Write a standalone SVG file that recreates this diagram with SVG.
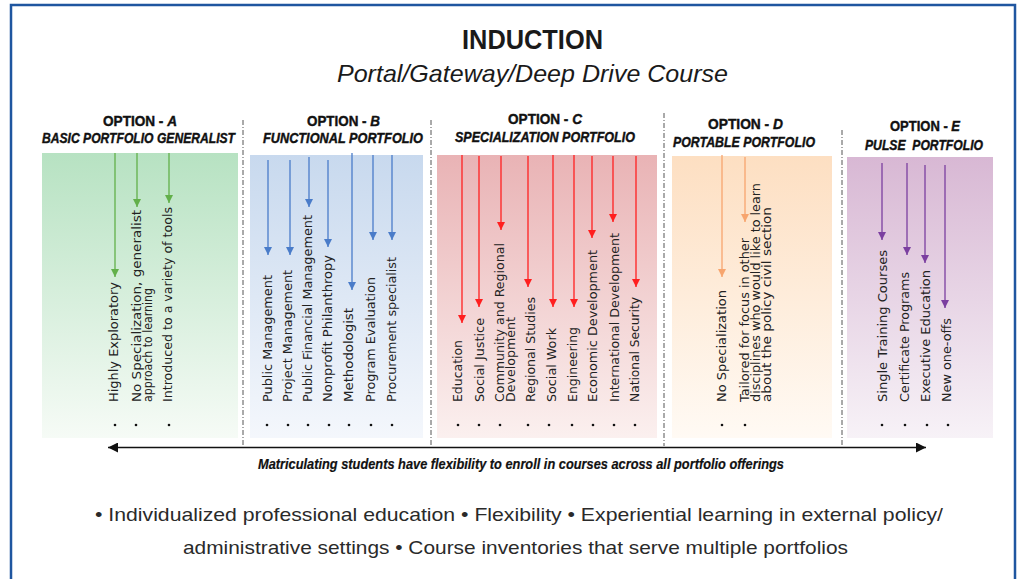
<svg xmlns="http://www.w3.org/2000/svg" width="1019" height="579" viewBox="0 0 1019 579">
  <style>
    .title { font-family: "Liberation Sans", Arial, sans-serif; font-weight: bold; font-size: 28px; fill: #1a1a1a; }
    .subtitle { font-family: "Liberation Sans", Arial, sans-serif; font-style: italic; font-size: 24px; fill: #1a1a1a; }
    .opt { font-family: "Liberation Sans", Arial, sans-serif; font-weight: bold; font-size: 14px; fill: #111; stroke: #111; stroke-width: 0.4; }
    .opt .it { font-style: italic; }
    .port { font-family: "Liberation Sans", Arial, sans-serif; font-weight: bold; font-style: italic; font-size: 14px; fill: #111; stroke: #111; stroke-width: 0.4; }
    .lbl { font-family: "DejaVu Sans", Verdana, sans-serif; font-size: 12px; fill: #222; }
    .note { font-family: "Liberation Sans", Arial, sans-serif; font-weight: bold; font-style: italic; font-size: 14px; fill: #111; stroke: #111; stroke-width: 0.2; }
    .foot { font-family: "Liberation Sans", Arial, sans-serif; font-size: 19px; fill: #2a2a2a; }
    .sep { stroke: #555; stroke-width: 1; stroke-dasharray: 5 2 1 2; fill: none; }
    .dot { fill: #111; }
    .ga { stroke: #62b04a; stroke-width: 1.3; fill: none; marker-end: url(#hg); }
    .ba { stroke: #4a7cc9; stroke-width: 1.3; fill: none; marker-end: url(#hb); }
    .ra { stroke: #ff1f1f; stroke-width: 1.3; fill: none; marker-end: url(#hr); }
    .oa { stroke: #f7a56e; stroke-width: 1.3; fill: none; marker-end: url(#ho); }
    .pa { stroke: #7b3fa0; stroke-width: 1.3; fill: none; marker-end: url(#hp); }
  </style>
  <defs>
    <linearGradient id="gA" x1="0" y1="0" x2="0" y2="1">
      <stop offset="0" stop-color="#b7e2c2"/><stop offset="1" stop-color="#f6fbf6"/>
    </linearGradient>
    <linearGradient id="gB" x1="0" y1="0" x2="0" y2="1">
      <stop offset="0" stop-color="#c8d9ee"/><stop offset="1" stop-color="#f4f7fc"/>
    </linearGradient>
    <linearGradient id="gC" x1="0" y1="0" x2="0" y2="1">
      <stop offset="0" stop-color="#e9b3b5"/><stop offset="1" stop-color="#fbf0ef"/>
    </linearGradient>
    <linearGradient id="gD" x1="0" y1="0" x2="0" y2="1">
      <stop offset="0" stop-color="#fddfc2"/><stop offset="1" stop-color="#fffaf4"/>
    </linearGradient>
    <linearGradient id="gE" x1="0" y1="0" x2="0" y2="1">
      <stop offset="0" stop-color="#d8b8d4"/><stop offset="1" stop-color="#f7f2f7"/>
    </linearGradient>
    <marker id="hg" viewBox="0 0 8 8" refX="8" refY="4" markerWidth="8" markerHeight="8" markerUnits="userSpaceOnUse" orient="auto"><path d="M0,0 L8,4 L0,8 z" fill="#62b04a"/></marker>
    <marker id="hb" viewBox="0 0 8 8" refX="8" refY="4" markerWidth="8" markerHeight="8" markerUnits="userSpaceOnUse" orient="auto"><path d="M0,0 L8,4 L0,8 z" fill="#4a7cc9"/></marker>
    <marker id="hr" viewBox="0 0 8 8" refX="8" refY="4" markerWidth="8" markerHeight="8" markerUnits="userSpaceOnUse" orient="auto"><path d="M0,0 L8,4 L0,8 z" fill="#ff1f1f"/></marker>
    <marker id="ho" viewBox="0 0 8 8" refX="8" refY="4" markerWidth="8" markerHeight="8" markerUnits="userSpaceOnUse" orient="auto"><path d="M0,0 L8,4 L0,8 z" fill="#f7a56e"/></marker>
    <marker id="hp" viewBox="0 0 8 8" refX="8" refY="4" markerWidth="8" markerHeight="8" markerUnits="userSpaceOnUse" orient="auto"><path d="M0,0 L8,4 L0,8 z" fill="#7b3fa0"/></marker>
    <marker id="hk" viewBox="0 0 10 10" refX="10" refY="5" markerWidth="10" markerHeight="10" markerUnits="userSpaceOnUse" orient="auto-start-reverse"><path d="M0,0 L10,5 L0,10 z" fill="#111"/></marker>
  </defs>

  <!-- white page with blue frame (open at the bottom) -->
  <rect x="0" y="0" width="1019" height="579" fill="#fff"/>
  <path d="M11,579 V5 H1015 V579" fill="none" stroke="#1f56a0" stroke-width="2.5"/>

  <!-- heading -->
  <g id="heading">
    <text class="title" x="462" y="49" textLength="141" lengthAdjust="spacingAndGlyphs">INDUCTION</text>
    <text class="subtitle" x="337" y="82" textLength="391" lengthAdjust="spacingAndGlyphs">Portal/Gateway/Deep Drive Course</text>
  </g>

  <!-- column separators -->
  <g id="separators">
    <line class="sep" x1="243" y1="120" x2="243" y2="446"/>
    <line class="sep" x1="431" y1="120" x2="431" y2="446"/>
    <line class="sep" x1="664" y1="113" x2="664" y2="446"/>
    <line class="sep" x1="842" y1="130" x2="842" y2="446"/>
  </g>

  <!-- Option A -->
  <g id="option-a">
    <rect x="42" y="153" width="196" height="285" fill="url(#gA)"/>
    <text class="opt" x="103" y="126" textLength="74" lengthAdjust="spacingAndGlyphs">OPTION - <tspan class="it">A</tspan></text>
    <text class="port" x="42" y="143" textLength="193" lengthAdjust="spacingAndGlyphs">BASIC PORTFOLIO GENERALIST</text>
    <text class="lbl" transform="translate(117.5,402) rotate(-90)" textLength="120" lengthAdjust="spacingAndGlyphs">Highly Exploratory</text>
    <text class="lbl" transform="translate(140.5,402) rotate(-90)" textLength="192" lengthAdjust="spacingAndGlyphs">No Specialization, generalist</text>
    <text class="lbl" transform="translate(151.5,402) rotate(-90)" textLength="114" lengthAdjust="spacingAndGlyphs">approach to learning</text>
    <text class="lbl" transform="translate(171.5,402) rotate(-90)" textLength="195" lengthAdjust="spacingAndGlyphs">Introduced to a variety of tools</text>
    <circle class="dot" cx="115" cy="425" r="1.3"/>
    <circle class="dot" cx="136" cy="425" r="1.3"/>
    <circle class="dot" cx="169" cy="425" r="1.3"/>
  </g>

  <!-- Option B -->
  <g id="option-b">
    <rect x="250" y="155" width="173" height="283" fill="url(#gB)"/>
    <text class="opt" x="307" y="126" textLength="73" lengthAdjust="spacingAndGlyphs">OPTION - <tspan class="it">B</tspan></text>
    <text class="port" x="263" y="143" textLength="160" lengthAdjust="spacingAndGlyphs">FUNCTIONAL PORTFOLIO</text>
    <text class="lbl" transform="translate(271.5,402) rotate(-90)" textLength="127" lengthAdjust="spacingAndGlyphs">Public Management</text>
    <text class="lbl" transform="translate(291.5,402) rotate(-90)" textLength="132" lengthAdjust="spacingAndGlyphs">Project Management</text>
    <text class="lbl" transform="translate(311.5,402) rotate(-90)" textLength="187" lengthAdjust="spacingAndGlyphs">Public Financial Management</text>
    <text class="lbl" transform="translate(331.5,402) rotate(-90)" textLength="147" lengthAdjust="spacingAndGlyphs">Nonprofit Philanthropy</text>
    <text class="lbl" transform="translate(353,402) rotate(-90)" textLength="94" lengthAdjust="spacingAndGlyphs">Methodologist</text>
    <text class="lbl" transform="translate(375,402) rotate(-90)" textLength="125" lengthAdjust="spacingAndGlyphs">Program Evaluation</text>
    <text class="lbl" transform="translate(395.5,402) rotate(-90)" textLength="145" lengthAdjust="spacingAndGlyphs">Procurement specialist</text>
    <circle class="dot" cx="267" cy="425" r="1.3"/>
    <circle class="dot" cx="288" cy="425" r="1.3"/>
    <circle class="dot" cx="308" cy="425" r="1.3"/>
    <circle class="dot" cx="329" cy="425" r="1.3"/>
    <circle class="dot" cx="349" cy="425" r="1.3"/>
    <circle class="dot" cx="371" cy="425" r="1.3"/>
    <circle class="dot" cx="392" cy="425" r="1.3"/>
  </g>

  <!-- Option C -->
  <g id="option-c">
    <rect x="437" y="155" width="220" height="283" fill="url(#gC)"/>
    <text class="opt" x="508" y="124" textLength="74" lengthAdjust="spacingAndGlyphs">OPTION - <tspan class="it">C</tspan></text>
    <text class="port" x="455" y="142" textLength="180" lengthAdjust="spacingAndGlyphs">SPECIALIZATION PORTFOLIO</text>
    <text class="lbl" transform="translate(461.5,402) rotate(-90)" textLength="62" lengthAdjust="spacingAndGlyphs">Education</text>
    <text class="lbl" transform="translate(483.5,402) rotate(-90)" textLength="84" lengthAdjust="spacingAndGlyphs">Social Justice</text>
    <text class="lbl" transform="translate(503.5,402) rotate(-90)" textLength="159" lengthAdjust="spacingAndGlyphs">Community and Regional</text>
    <text class="lbl" transform="translate(514.5,402) rotate(-90)" textLength="85" lengthAdjust="spacingAndGlyphs">Development</text>
    <text class="lbl" transform="translate(534.5,402) rotate(-90)" textLength="105" lengthAdjust="spacingAndGlyphs">Regional Studies</text>
    <text class="lbl" transform="translate(555.5,402) rotate(-90)" textLength="74" lengthAdjust="spacingAndGlyphs">Social Work</text>
    <text class="lbl" transform="translate(576.5,402) rotate(-90)" textLength="75" lengthAdjust="spacingAndGlyphs">Engineering</text>
    <text class="lbl" transform="translate(596.5,402) rotate(-90)" textLength="152" lengthAdjust="spacingAndGlyphs">Economic Development</text>
    <text class="lbl" transform="translate(618.5,402) rotate(-90)" textLength="169" lengthAdjust="spacingAndGlyphs">International Development</text>
    <text class="lbl" transform="translate(638.5,402) rotate(-90)" textLength="105" lengthAdjust="spacingAndGlyphs">National Security</text>
    <circle class="dot" cx="458" cy="425" r="1.3"/>
    <circle class="dot" cx="479" cy="425" r="1.3"/>
    <circle class="dot" cx="500" cy="425" r="1.3"/>
    <circle class="dot" cx="528" cy="425" r="1.3"/>
    <circle class="dot" cx="549" cy="425" r="1.3"/>
    <circle class="dot" cx="572" cy="425" r="1.3"/>
    <circle class="dot" cx="593" cy="425" r="1.3"/>
    <circle class="dot" cx="614" cy="425" r="1.3"/>
    <circle class="dot" cx="635" cy="425" r="1.3"/>
  </g>

  <!-- Option D -->
  <g id="option-d">
    <rect x="672" y="156" width="160" height="282" fill="url(#gD)"/>
    <text class="opt" x="708" y="129" textLength="75" lengthAdjust="spacingAndGlyphs">OPTION - <tspan class="it">D</tspan></text>
    <text class="port" x="673" y="147" textLength="142" lengthAdjust="spacingAndGlyphs">PORTABLE PORTFOLIO</text>
    <text class="lbl" transform="translate(725.5,402) rotate(-90)" textLength="112" lengthAdjust="spacingAndGlyphs">No Specialization</text>
    <text class="lbl" transform="translate(748.5,402) rotate(-90)" textLength="164" lengthAdjust="spacingAndGlyphs">Tailored for focus in other</text>
    <text class="lbl" transform="translate(759.5,402) rotate(-90)" textLength="219" lengthAdjust="spacingAndGlyphs">disciplines who would like to learn</text>
    <text class="lbl" transform="translate(770.5,402) rotate(-90)" textLength="195" lengthAdjust="spacingAndGlyphs">about the policy civil section</text>
    <circle class="dot" cx="722" cy="425" r="1.3"/>
    <circle class="dot" cx="745" cy="425" r="1.3"/>
  </g>

  <!-- Option E -->
  <g id="option-e">
    <rect x="847" y="157" width="146" height="281" fill="url(#gE)"/>
    <text class="opt" x="890" y="131" textLength="70" lengthAdjust="spacingAndGlyphs">OPTION - <tspan class="it">E</tspan></text>
    <text class="port" x="865" y="150" textLength="118" lengthAdjust="spacingAndGlyphs" xml:space="preserve">PULSE  PORTFOLIO</text>
    <text class="lbl" transform="translate(886.5,402) rotate(-90)" textLength="152" lengthAdjust="spacingAndGlyphs">Single Training Courses</text>
    <text class="lbl" transform="translate(908.5,402) rotate(-90)" textLength="130" lengthAdjust="spacingAndGlyphs">Certificate Programs</text>
    <text class="lbl" transform="translate(930,402) rotate(-90)" textLength="132" lengthAdjust="spacingAndGlyphs">Executive Education</text>
    <text class="lbl" transform="translate(951,402) rotate(-90)" textLength="84" lengthAdjust="spacingAndGlyphs">New one-offs</text>
    <circle class="dot" cx="882" cy="425" r="1.3"/>
    <circle class="dot" cx="905" cy="425" r="1.3"/>
    <circle class="dot" cx="927" cy="425" r="1.3"/>
    <circle class="dot" cx="948" cy="425" r="1.3"/>
  </g>

  <!-- arrows -->
  <g id="connectors">
    <line class="ga" x1="115" y1="153" x2="115" y2="277"/>
    <line class="ga" x1="137" y1="153" x2="137" y2="207"/>
    <line class="ga" x1="169" y1="153" x2="169" y2="203"/>

    <line class="ba" x1="268" y1="160" x2="268" y2="255"/>
    <line class="ba" x1="290" y1="160" x2="290" y2="255"/>
    <line class="ba" x1="309" y1="157" x2="309" y2="207"/>
    <line class="ba" x1="328" y1="160" x2="328" y2="247"/>
    <line class="ba" x1="352" y1="153" x2="352" y2="290"/>
    <line class="ba" x1="373" y1="155" x2="373" y2="240"/>
    <line class="ba" x1="392" y1="155" x2="392" y2="240"/>

    <line class="ra" x1="462" y1="155" x2="462" y2="323"/>
    <line class="ra" x1="479" y1="156" x2="479" y2="307"/>
    <line class="ra" x1="501" y1="156" x2="501" y2="230"/>
    <line class="ra" x1="528" y1="156" x2="528" y2="287"/>
    <line class="ra" x1="553" y1="155" x2="553" y2="307"/>
    <line class="ra" x1="574" y1="155" x2="574" y2="307"/>
    <line class="ra" x1="592" y1="156" x2="592" y2="238"/>
    <line class="ra" x1="613" y1="156" x2="613" y2="222"/>
    <line class="ra" x1="636" y1="156" x2="636" y2="287"/>

    <line class="oa" x1="722" y1="155" x2="722" y2="277"/>
    <line class="oa" x1="745" y1="157" x2="745" y2="222"/>

    <line class="pa" x1="882" y1="163" x2="882" y2="240"/>
    <line class="pa" x1="907" y1="163" x2="907" y2="255"/>
    <line class="pa" x1="925" y1="165" x2="925" y2="263"/>
    <line class="pa" x1="945" y1="165" x2="945" y2="308"/>

    <line x1="108" y1="447.5" x2="926" y2="447.5" stroke="#111" stroke-width="1.6" marker-start="url(#hk)" marker-end="url(#hk)"/>
  </g>

  <!-- notes -->
  <g id="notes">
    <text class="note" x="258" y="469" textLength="526" lengthAdjust="spacingAndGlyphs">Matriculating students have flexibility to enroll in courses across all portfolio offerings</text>
    <text class="foot" x="95" y="521" textLength="848" lengthAdjust="spacingAndGlyphs">• Individualized professional education • Flexibility • Experiential learning in external policy/</text>
    <text class="foot" x="183" y="554" textLength="665" lengthAdjust="spacingAndGlyphs">administrative settings • Course inventories that serve multiple portfolios</text>
  </g>
</svg>
